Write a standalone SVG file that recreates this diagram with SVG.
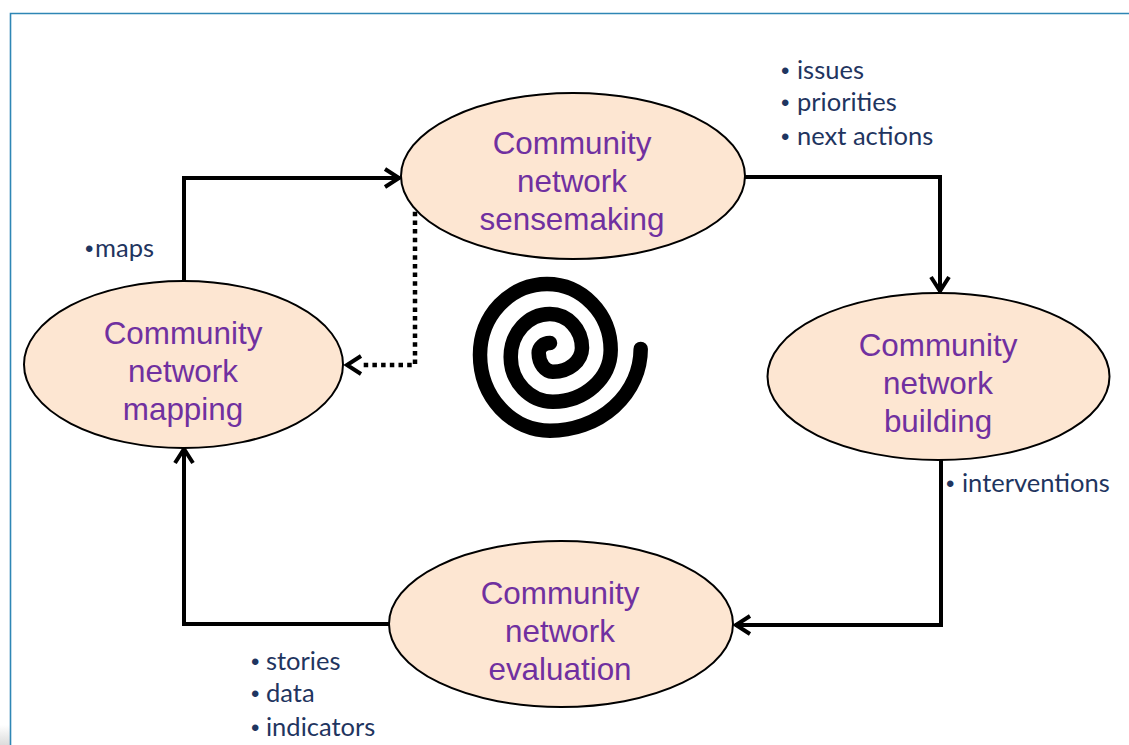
<svg xmlns="http://www.w3.org/2000/svg" width="1129" height="745" viewBox="0 0 1129 745">
<style>
.n{fill:#fde6d2;stroke:#000;stroke-width:2}
.t{font-family:"Liberation Sans",Arial,sans-serif;font-size:31.400px;fill:#7030a0;text-anchor:middle}
.b{font-family:Lato,"Liberation Sans",sans-serif;font-size:25.500px;fill:#1f3560}
.u{font-family:"Liberation Sans",Arial,sans-serif;font-size:24px;fill:#1f3560}
.c{fill:none;stroke:#000;stroke-width:4;stroke-linejoin:miter}
.d{stroke-width:4.500;stroke-dasharray:4.500 4.200}
</style>
<defs>
<marker id="a" markerUnits="userSpaceOnUse" markerWidth="24" markerHeight="26" refX="19" refY="13" orient="auto">
<path d="M4 4L18 13L4 22" fill="none" stroke="#000" stroke-width="4"/>
</marker>
<linearGradient id="g" x1="0" y1="0" x2="0" y2="1"><stop offset="0" stop-color="#fff"/><stop offset="1" stop-color="#dcdcdc"/></linearGradient>
</defs>
<rect width="1129" height="745" fill="#fff"/>
<rect x="0" y="725" width="10" height="20" fill="url(#g)"/>
<path id="frame" d="M10.500 745V13.500H1129" fill="none" stroke="#2e86b5" stroke-width="1.600"/>
<g id="connectors">
<path class="c" marker-end="url(#a)" d="M184 281V178H400"/>
<path class="c" marker-end="url(#a)" d="M745 177H940V292"/>
<path class="c" marker-end="url(#a)" d="M941 460V625H735"/>
<path class="c" marker-end="url(#a)" d="M389 624H184V448"/>
<path class="c d" d="M415 203V365H362"/>
<path d="M361 356L347 365L361 374" fill="none" stroke="#000" stroke-width="4"/>
</g>
<g id="sensemaking"><ellipse class="n" cx="573" cy="176" rx="172" ry="83"/>
<text class="t" x="572" y="154">Community</text><text class="t" x="572" y="192">network</text><text class="t" x="572" y="230">sensemaking</text></g>
<g id="building"><ellipse class="n" cx="938.500" cy="376.500" rx="171" ry="83.500"/>
<text class="t" x="938" y="356">Community</text><text class="t" x="938" y="394">network</text><text class="t" x="938" y="432">building</text></g>
<g id="evaluation"><ellipse class="n" cx="561" cy="624" rx="172" ry="83"/>
<text class="t" x="560" y="604">Community</text><text class="t" x="560" y="642">network</text><text class="t" x="560" y="680">evaluation</text></g>
<g id="mapping"><ellipse class="n" cx="183.500" cy="364.500" rx="159.500" ry="83.500"/>
<text class="t" x="183" y="344">Community</text><text class="t" x="183" y="382">network</text><text class="t" x="183" y="420">mapping</text></g>
<path id="spiral" fill="none" stroke="#000" stroke-width="14.500" stroke-linecap="round" d="M640.700 349A90.700 81.700 0 0 1 550 430.700A70 76 0 0 1 480 355A67 71 0 0 1 547 284A64 66 0 0 1 610.700 350A58 52 0 0 1 553 401.700A42 45 0 0 1 510.700 357A39 43 0 0 1 550 314A32 34 0 0 1 582 348A29 24 0 0 1 553 371.700A14 19 0 0 1 538.700 353A11 10 0 0 1 550 343"/>
<g id="labels">
<text class="b" x="781" y="79"><tspan class="u">•</tspan><tspan x="797">issues</tspan></text>
<text class="b" x="781" y="111"><tspan class="u">•</tspan><tspan x="797">priorities</tspan></text>
<text class="b" x="781" y="145"><tspan class="u">•</tspan><tspan x="797">next actions</tspan></text>
<text class="b" x="85" y="257"><tspan class="u">•</tspan><tspan x="95">maps</tspan></text>
<text class="b" x="946" y="492"><tspan class="u">•</tspan><tspan x="962">interventions</tspan></text>
<text class="b" x="251" y="670"><tspan class="u">•</tspan><tspan x="266">stories</tspan></text>
<text class="b" x="251" y="702"><tspan class="u">•</tspan><tspan x="266">data</tspan></text>
<text class="b" x="251" y="736"><tspan class="u">•</tspan><tspan x="266">indicators</tspan></text>
</g>
</svg>
